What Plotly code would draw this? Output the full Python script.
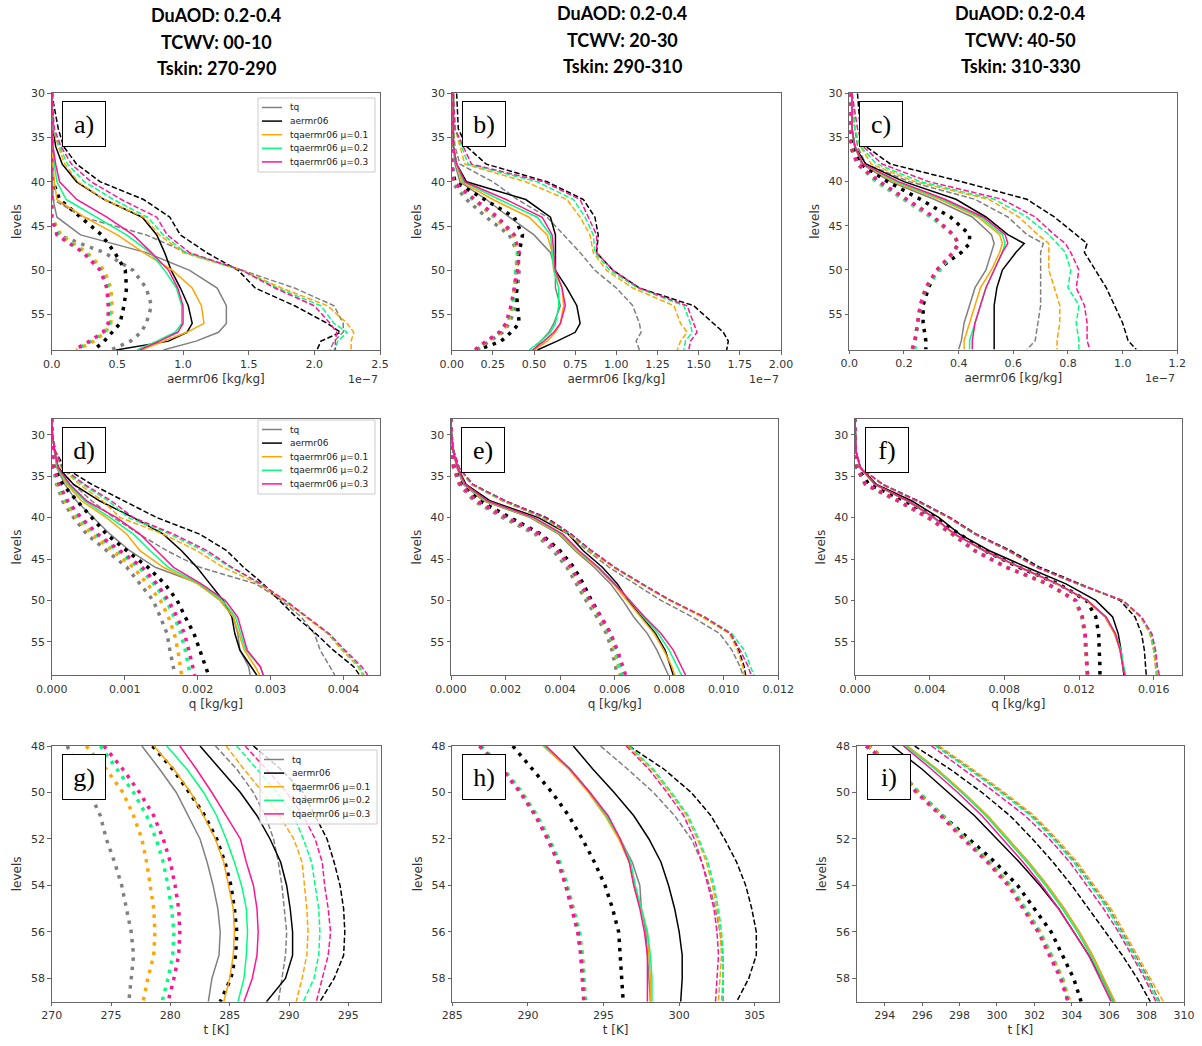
import plotly.graph_objects as go

W, H = 1202, 1046

SERIES = ["tq", "aermr06", "tqaermr06 μ=0.1", "tqaermr06 μ=0.2", "tqaermr06 μ=0.3"]
COLORS = ["#808080", "#000000", "#FFA500", "#00FF7F", "#FF1493"]

COLUMN_TITLES = [
    ["DuAOD: 0.2-0.4", "TCWV: 00-10", "Tskin: 270-290"],
    ["DuAOD: 0.2-0.4", "TCWV: 20-30", "Tskin: 290-310"],
    ["DuAOD: 0.2-0.4", "TCWV: 40-50", "Tskin: 310-330"],
]

# ---------------- aermr06 profiles, units of 1e-7 kg/kg ----------------
# each block: [tq, aermr06, mu=0.1, mu=0.2, mu=0.3]
lev_a = [30, 34, 36, 38, 40, 42, 44, 46, 48, 50, 52, 54, 56, 57, 58, 59]
a_mean = [
    [0, 0, 0, 0, 0.005, 0.01, 0.04, 0.22, 0.72, 1.05, 1.26, 1.33, 1.33, 1.27, 1.10, 0.85],
    [0, 0.01, 0.03, 0.08, 0.19, 0.40, 0.69, 0.80, 0.86, 0.91, 0.98, 1.04, 1.07, 1.03, 0.89, 0.49],
    [0, 0, 0.005, 0.01, 0.02, 0.04, 0.25, 0.50, 0.70, 0.92, 1.07, 1.14, 1.16, 1.03, 0.85, 0.68],
    [0, 0, 0.01, 0.02, 0.04, 0.11, 0.34, 0.57, 0.75, 0.86, 0.95, 0.99, 0.99, 0.94, 0.80, 0.65],
    [0, 0, 0.01, 0.03, 0.06, 0.19, 0.42, 0.62, 0.76, 0.89, 0.96, 1.00, 1.00, 0.96, 0.82, 0.67],
]
a_plus = [
    [0, 0, 0, 0, 0.005, 0.01, 0.24, 0.72, 1.03, 1.45, 1.85, 2.15, 2.22, 2.22, 2.15, 2.12],
    [0, 0.05, 0.09, 0.19, 0.37, 0.70, 0.90, 0.98, 1.18, 1.42, 1.55, 1.85, 2.10, 2.20, 2.05, 2.02],
    [0, 0.01, 0.05, 0.10, 0.20, 0.40, 0.70, 0.82, 1.00, 1.45, 1.75, 2.10, 2.25, 2.30, 2.28, 2.28],
    [0, 0.01, 0.06, 0.12, 0.25, 0.47, 0.73, 0.85, 1.02, 1.45, 1.72, 2.05, 2.15, 2.25, 2.18, 2.15],
    [0, 0.02, 0.07, 0.15, 0.30, 0.53, 0.80, 0.88, 1.05, 1.45, 1.70, 2.00, 2.12, 2.17, 2.16, 2.16],
]
a_minus = [
    [0, 0, 0, 0, 0, 0, 0, 0.05, 0.40, 0.62, 0.72, 0.76, 0.72, 0.68, 0.60, 0.45],
    [0, 0, 0, 0, 0.01, 0.06, 0.22, 0.38, 0.48, 0.56, 0.57, 0.55, 0.52, 0.46, 0.40, 0.32],
    [0, 0, 0, 0, 0, 0, 0, 0.07, 0.27, 0.40, 0.45, 0.46, 0.45, 0.41, 0.32, 0.19],
    [0, 0, 0, 0, 0, 0, 0, 0.05, 0.25, 0.38, 0.43, 0.44, 0.44, 0.40, 0.30, 0.18],
    [0, 0, 0, 0, 0, 0, 0, 0.04, 0.24, 0.37, 0.42, 0.43, 0.43, 0.39, 0.29, 0.17],
]

lev_b = [30, 34, 36, 38, 40, 42, 44, 46, 48, 50, 52, 54, 56, 57, 58, 59]
b_mean = [
    [0.01, 0.01, 0.01, 0.02, 0.05, 0.21, 0.35, 0.50, 0.60, 0.63, 0.63, 0.66, 0.62, 0.59, 0.54, 0.50],
    [0.01, 0.01, 0.01, 0.03, 0.09, 0.45, 0.60, 0.63, 0.63, 0.63, 0.70, 0.76, 0.78, 0.75, 0.64, 0.52],
    [0.01, 0.01, 0.01, 0.03, 0.06, 0.25, 0.47, 0.58, 0.61, 0.62, 0.67, 0.68, 0.66, 0.63, 0.58, 0.50],
    [0.01, 0.01, 0.01, 0.03, 0.07, 0.29, 0.52, 0.60, 0.61, 0.62, 0.65, 0.65, 0.63, 0.60, 0.54, 0.47],
    [0.01, 0.01, 0.01, 0.03, 0.08, 0.33, 0.55, 0.61, 0.62, 0.63, 0.67, 0.69, 0.66, 0.62, 0.56, 0.49],
]
b_plus = [
    [0.01, 0.01, 0.02, 0.05, 0.25, 0.40, 0.58, 0.68, 0.78, 0.87, 1.00, 1.10, 1.14, 1.15, 1.12, 1.14],
    [0.03, 0.04, 0.09, 0.21, 0.58, 0.80, 0.87, 0.89, 0.88, 0.98, 1.14, 1.47, 1.59, 1.65, 1.68, 1.67],
    [0.01, 0.02, 0.05, 0.08, 0.45, 0.70, 0.78, 0.84, 0.86, 0.94, 1.10, 1.35, 1.39, 1.43, 1.39, 1.37],
    [0.01, 0.02, 0.06, 0.10, 0.52, 0.74, 0.81, 0.86, 0.87, 0.96, 1.13, 1.41, 1.45, 1.46, 1.42, 1.41],
    [0.01, 0.02, 0.07, 0.12, 0.56, 0.78, 0.83, 0.88, 0.88, 0.98, 1.14, 1.43, 1.47, 1.49, 1.45, 1.44],
]
b_minus = [
    [0, 0, 0, 0, 0, 0.09, 0.21, 0.35, 0.40, 0.41, 0.40, 0.39, 0.35, 0.31, 0.23, 0.15],
    [0, 0, 0, 0, 0.02, 0.20, 0.38, 0.43, 0.41, 0.39, 0.39, 0.40, 0.41, 0.36, 0.30, 0.16],
    [0, 0, 0, 0, 0.01, 0.13, 0.26, 0.37, 0.40, 0.39, 0.38, 0.37, 0.34, 0.30, 0.22, 0.15],
    [0, 0, 0, 0, 0.01, 0.13, 0.27, 0.38, 0.40, 0.39, 0.38, 0.37, 0.33, 0.29, 0.21, 0.14],
    [0, 0, 0, 0, 0.01, 0.14, 0.28, 0.38, 0.41, 0.40, 0.38, 0.36, 0.33, 0.29, 0.21, 0.14],
]

lev_c = [30, 34, 36, 38, 40, 42, 44, 46, 47, 48, 50, 52, 54, 56, 58, 59]
c_mean = [
    [0.01, 0.01, 0.02, 0.045, 0.15, 0.31, 0.45, 0.52, 0.53, 0.52, 0.50, 0.46, 0.44, 0.42, 0.41, 0.40],
    [0.01, 0.01, 0.02, 0.06, 0.20, 0.39, 0.50, 0.58, 0.64, 0.61, 0.56, 0.54, 0.53, 0.53, 0.53, 0.53],
    [0.01, 0.01, 0.02, 0.05, 0.16, 0.33, 0.47, 0.55, 0.56, 0.55, 0.52, 0.48, 0.46, 0.44, 0.42, 0.42],
    [0.01, 0.01, 0.02, 0.05, 0.17, 0.34, 0.48, 0.56, 0.57, 0.56, 0.53, 0.50, 0.48, 0.46, 0.44, 0.44],
    [0.01, 0.01, 0.02, 0.05, 0.18, 0.35, 0.49, 0.57, 0.58, 0.56, 0.53, 0.50, 0.48, 0.46, 0.45, 0.45],
]
c_plus = [
    [0.01, 0.02, 0.03, 0.06, 0.22, 0.46, 0.58, 0.65, 0.71, 0.70, 0.70, 0.70, 0.70, 0.69, 0.68, 0.65],
    [0.03, 0.04, 0.06, 0.15, 0.41, 0.65, 0.75, 0.83, 0.87, 0.86, 0.90, 0.94, 0.97, 1.00, 1.02, 1.05],
    [0.01, 0.02, 0.04, 0.08, 0.24, 0.51, 0.62, 0.69, 0.73, 0.73, 0.73, 0.75, 0.77, 0.77, 0.76, 0.76],
    [0.01, 0.02, 0.04, 0.10, 0.26, 0.53, 0.65, 0.73, 0.76, 0.79, 0.81, 0.80, 0.84, 0.83, 0.84, 0.84],
    [0.01, 0.03, 0.05, 0.12, 0.29, 0.56, 0.68, 0.75, 0.79, 0.81, 0.84, 0.83, 0.86, 0.87, 0.87, 0.88],
]
c_minus = [
    [0, 0, 0.005, 0.03, 0.10, 0.20, 0.30, 0.38, 0.40, 0.38, 0.33, 0.28, 0.26, 0.25, 0.24, 0.23],
    [0, 0, 0.01, 0.04, 0.14, 0.26, 0.37, 0.44, 0.44, 0.41, 0.32, 0.29, 0.27, 0.27, 0.28, 0.28],
    [0, 0, 0.005, 0.03, 0.10, 0.20, 0.30, 0.38, 0.40, 0.38, 0.33, 0.28, 0.26, 0.25, 0.24, 0.23],
    [0, 0, 0.005, 0.03, 0.10, 0.20, 0.30, 0.38, 0.40, 0.38, 0.33, 0.28, 0.26, 0.25, 0.24, 0.24],
    [0, 0, 0.005, 0.03, 0.11, 0.21, 0.31, 0.38, 0.40, 0.38, 0.32, 0.28, 0.26, 0.25, 0.24, 0.23],
]

# ---------------- specific humidity profiles, g/kg ----------------
lev_q = [28, 30, 32, 34, 36, 38, 40, 42, 44, 46, 48, 50, 52, 54, 56, 58, 59]
d_mean = [
    [0, 0.01, 0.04, 0.07, 0.18, 0.34, 0.57, 0.80, 1.07, 1.42, 2.03, 2.31, 2.49, 2.55, 2.58, 2.70, 2.72],
    [0, 0.01, 0.04, 0.09, 0.30, 0.66, 1.12, 1.53, 1.78, 1.99, 2.17, 2.35, 2.47, 2.51, 2.58, 2.74, 2.81],
    [0, 0.01, 0.04, 0.08, 0.21, 0.41, 0.75, 1.03, 1.21, 1.53, 2.00, 2.31, 2.49, 2.56, 2.64, 2.79, 2.85],
    [0, 0.01, 0.04, 0.08, 0.23, 0.45, 0.80, 1.12, 1.35, 1.60, 2.03, 2.34, 2.52, 2.59, 2.66, 2.86, 2.90],
    [0, 0.01, 0.04, 0.09, 0.25, 0.48, 0.89, 1.21, 1.44, 1.67, 2.05, 2.38, 2.55, 2.62, 2.68, 2.86, 2.90],
]
d_plus = [
    [0, 0.01, 0.05, 0.10, 0.30, 0.55, 0.85, 1.20, 1.58, 2.03, 2.80, 3.15, 3.42, 3.60, 3.68, 3.82, 3.88],
    [0, 0.01, 0.05, 0.18, 0.55, 1.00, 1.44, 2.03, 2.40, 2.63, 2.90, 3.12, 3.35, 3.62, 3.86, 4.14, 4.22],
    [0, 0.01, 0.05, 0.13, 0.38, 0.70, 0.94, 1.53, 1.99, 2.35, 2.84, 3.18, 3.48, 3.78, 3.98, 4.20, 4.26],
    [0, 0.01, 0.05, 0.14, 0.42, 0.78, 1.05, 1.62, 2.08, 2.45, 2.86, 3.20, 3.50, 3.80, 4.00, 4.22, 4.28],
    [0, 0.01, 0.05, 0.15, 0.45, 0.82, 1.12, 1.67, 2.13, 2.47, 2.87, 3.20, 3.50, 3.80, 4.02, 4.25, 4.33],
]
d_minus = [
    [0, 0, 0.01, 0.02, 0.07, 0.15, 0.30, 0.48, 0.75, 1.03, 1.21, 1.39, 1.49, 1.58, 1.62, 1.67, 1.69],
    [0, 0, 0.01, 0.03, 0.15, 0.35, 0.55, 0.75, 1.03, 1.32, 1.55, 1.72, 1.83, 1.95, 2.03, 2.11, 2.15],
    [0, 0, 0.01, 0.02, 0.08, 0.18, 0.34, 0.55, 0.83, 1.12, 1.31, 1.49, 1.60, 1.68, 1.73, 1.76, 1.78],
    [0, 0, 0.01, 0.02, 0.09, 0.20, 0.38, 0.60, 0.90, 1.20, 1.40, 1.57, 1.68, 1.77, 1.83, 1.88, 1.90],
    [0, 0, 0.01, 0.03, 0.10, 0.22, 0.40, 0.63, 0.93, 1.24, 1.44, 1.60, 1.72, 1.82, 1.88, 1.93, 1.96],
]

e_mean = [
    [0, 0.02, 0.08, 0.22, 0.45, 1.20, 2.90, 3.95, 4.55, 5.25, 5.85, 6.30, 6.70, 7.20, 7.55, 7.85, 7.97],
    [0, 0.02, 0.08, 0.25, 0.55, 1.45, 3.20, 4.30, 4.85, 5.55, 6.10, 6.50, 7.00, 7.50, 7.85, 8.05, 8.15],
    [0, 0.02, 0.08, 0.23, 0.48, 1.25, 2.95, 4.00, 4.60, 5.35, 5.95, 6.45, 6.95, 7.45, 7.80, 8.10, 8.20],
    [0, 0.02, 0.08, 0.23, 0.50, 1.30, 3.00, 4.05, 4.65, 5.40, 6.00, 6.55, 7.05, 7.60, 8.00, 8.30, 8.45],
    [0, 0.02, 0.08, 0.24, 0.52, 1.35, 3.05, 4.10, 4.70, 5.40, 6.00, 6.55, 7.10, 7.70, 8.15, 8.45, 8.60],
]
e_plus = [
    [0, 0.02, 0.10, 0.28, 0.75, 1.90, 3.35, 4.30, 5.00, 5.80, 6.75, 7.70, 8.85, 9.85, 10.30, 10.60, 10.70],
    [0, 0.02, 0.10, 0.30, 0.80, 2.00, 3.50, 4.40, 5.15, 6.00, 7.00, 8.05, 9.25, 10.25, 10.55, 10.75, 10.80],
    [0, 0.02, 0.10, 0.28, 0.75, 1.90, 3.35, 4.30, 5.05, 5.95, 6.95, 8.00, 9.20, 10.20, 10.50, 10.70, 10.75],
    [0, 0.02, 0.10, 0.30, 0.78, 1.95, 3.40, 4.35, 5.10, 6.00, 7.00, 8.05, 9.30, 10.30, 10.75, 11.00, 11.10],
    [0, 0.02, 0.10, 0.31, 0.80, 2.00, 3.45, 4.40, 5.15, 6.00, 7.00, 8.05, 9.30, 10.25, 10.60, 10.90, 11.00],
]
e_minus = [
    [0, 0, 0.02, 0.10, 0.30, 0.85, 1.90, 3.10, 3.75, 4.25, 4.60, 4.95, 5.35, 5.70, 5.90, 6.05, 6.10],
    [0, 0, 0.02, 0.12, 0.40, 1.05, 2.20, 3.30, 4.00, 4.50, 4.85, 5.15, 5.50, 5.85, 6.05, 6.20, 6.25],
    [0, 0, 0.02, 0.10, 0.33, 0.90, 2.00, 3.20, 3.85, 4.35, 4.70, 5.05, 5.45, 5.80, 6.00, 6.15, 6.20],
    [0, 0, 0.02, 0.10, 0.33, 0.92, 2.02, 3.22, 3.87, 4.37, 4.72, 5.07, 5.47, 5.82, 6.05, 6.20, 6.25],
    [0, 0, 0.02, 0.10, 0.34, 0.93, 2.04, 3.24, 3.90, 4.40, 4.75, 5.10, 5.50, 5.85, 6.10, 6.30, 6.40],
]

f_mean = [
    [0, 0.01, 0.05, 0.28, 1.05, 2.80, 4.20, 5.30, 6.90, 8.80, 10.80, 12.40, 13.40, 13.90, 14.20, 14.35, 14.45],
    [0, 0.01, 0.05, 0.30, 1.15, 3.05, 4.50, 5.60, 7.20, 9.20, 11.30, 12.90, 13.80, 14.10, 14.25, 14.35, 14.40],
    [0, 0.01, 0.05, 0.28, 1.05, 2.80, 4.20, 5.30, 6.90, 8.80, 10.80, 12.40, 13.40, 13.90, 14.20, 14.35, 14.45],
    [0, 0.01, 0.05, 0.28, 1.07, 2.82, 4.22, 5.32, 6.92, 8.85, 10.85, 12.45, 13.45, 13.95, 14.25, 14.40, 14.50],
    [0, 0.01, 0.05, 0.29, 1.08, 2.85, 4.25, 5.35, 6.95, 8.85, 10.85, 12.45, 13.45, 13.95, 14.20, 14.35, 14.45],
]
f_plus = [
    [0, 0.01, 0.05, 0.30, 1.45, 3.30, 5.00, 6.40, 8.20, 9.70, 11.90, 14.30, 15.30, 15.80, 16.00, 16.10, 16.15],
    [0, 0.01, 0.05, 0.30, 1.50, 3.40, 5.10, 6.50, 8.35, 9.90, 12.10, 14.20, 15.00, 15.35, 15.50, 15.55, 15.60],
    [0, 0.01, 0.05, 0.30, 1.45, 3.30, 5.00, 6.40, 8.20, 9.70, 11.90, 14.30, 15.30, 15.80, 16.00, 16.10, 16.15],
    [0, 0.01, 0.05, 0.31, 1.47, 3.32, 5.02, 6.42, 8.25, 9.75, 11.95, 14.35, 15.35, 15.85, 16.05, 16.15, 16.20],
    [0, 0.01, 0.05, 0.31, 1.48, 3.35, 5.05, 6.45, 8.25, 9.75, 11.95, 14.35, 15.35, 15.90, 16.10, 16.20, 16.30],
]
f_minus = [
    [0, 0, 0.01, 0.10, 0.55, 2.30, 3.90, 5.20, 6.40, 8.10, 10.30, 11.80, 12.15, 12.30, 12.38, 12.42, 12.45],
    [0, 0, 0.01, 0.12, 0.75, 2.70, 4.30, 5.60, 6.95, 8.80, 10.90, 12.40, 12.90, 13.05, 13.10, 13.12, 13.12],
    [0, 0, 0.01, 0.10, 0.55, 2.30, 3.90, 5.20, 6.40, 8.10, 10.30, 11.80, 12.15, 12.30, 12.38, 12.42, 12.45],
    [0, 0, 0.01, 0.10, 0.56, 2.32, 3.92, 5.22, 6.42, 8.12, 10.32, 11.82, 12.17, 12.32, 12.40, 12.44, 12.47],
    [0, 0, 0.01, 0.10, 0.57, 2.33, 3.93, 5.23, 6.43, 8.13, 10.33, 11.83, 12.18, 12.33, 12.40, 12.43, 12.45],
]

# ---------------- temperature profiles, K ----------------
lev_t = [48, 49, 50, 51, 52, 53, 54, 55, 56, 57, 58, 59]
g_mean = [
    [277.6, 279.1, 280.5, 281.5, 282.5, 283.1, 283.6, 284.0, 284.2, 284.1, 283.5, 283.2],
    [282.5, 284.2, 285.9, 287.3, 288.4, 289.3, 289.8, 290.1, 290.3, 290.3, 289.7, 288.1],
    [278.6, 280.3, 281.7, 282.8, 283.8, 284.5, 284.9, 285.3, 285.4, 285.3, 285.0, 284.5],
    [279.7, 281.4, 282.8, 283.9, 284.7, 285.4, 286.0, 286.4, 286.5, 286.4, 286.2, 285.7],
    [280.8, 282.2, 283.5, 284.7, 285.9, 286.4, 287.0, 287.3, 287.4, 287.3, 286.9, 286.2],
]
g_plus = [
    [283.8, 285.6, 287.0, 288.0, 288.7, 289.1, 289.4, 289.6, 289.8, 289.7, 289.4, 289.1],
    [287.0, 289.3, 291.2, 292.2, 293.2, 293.8, 294.3, 294.6, 294.7, 294.6, 293.8, 292.6],
    [284.7, 286.2, 287.8, 289.2, 290.4, 291.1, 291.3, 291.5, 291.6, 291.5, 291.1, 290.6],
    [285.6, 287.3, 289.0, 290.4, 291.2, 291.9, 292.2, 292.5, 292.6, 292.5, 292.1, 291.2],
    [286.3, 288.1, 289.8, 291.2, 292.2, 292.8, 293.0, 293.3, 293.5, 293.3, 292.8, 292.3],
]
g_minus = [
    [271.3, 272.3, 273.2, 274.1, 274.6, 275.3, 275.9, 276.3, 276.7, 276.9, 276.7, 276.5],
    [278.5, 280.2, 281.6, 282.9, 283.9, 284.6, 285.1, 285.4, 285.6, 285.5, 285.1, 284.2],
    [272.9, 274.6, 276.0, 276.9, 277.6, 278.0, 278.3, 278.6, 278.7, 278.6, 278.1, 277.7],
    [274.1, 275.5, 276.9, 278.0, 278.8, 279.4, 279.8, 280.1, 280.3, 280.2, 279.8, 279.3],
    [274.4, 276.0, 277.4, 278.6, 279.4, 280.0, 280.4, 280.7, 280.8, 280.7, 280.3, 279.8],
]

h_mean = [
    [291.1, 292.8, 294.1, 295.2, 296.1, 296.9, 297.4, 297.5, 297.8, 297.9, 298.0, 298.1],
    [293.0, 294.3, 295.7, 297.0, 298.0, 298.8, 299.3, 299.7, 300.0, 300.2, 300.2, 300.1],
    [291.0, 292.7, 294.0, 295.1, 296.0, 296.7, 297.0, 297.5, 297.9, 298.0, 298.1, 298.1],
    [291.1, 292.8, 294.1, 295.2, 296.1, 296.8, 297.1, 297.5, 297.9, 298.1, 298.2, 298.2],
    [291.2, 292.8, 294.1, 295.3, 296.1, 296.7, 297.0, 297.4, 297.7, 297.9, 297.9, 297.9],
]
h_plus = [
    [294.8, 296.6, 298.3, 299.7, 300.8, 301.5, 302.0, 302.4, 302.7, 302.9, 302.9, 302.9],
    [296.7, 299.0, 300.8, 302.1, 303.0, 303.8, 304.4, 304.8, 305.1, 305.1, 304.6, 303.8],
    [296.6, 298.2, 299.4, 300.5, 301.2, 301.8, 302.2, 302.5, 302.7, 302.8, 302.7, 302.6],
    [296.7, 298.3, 299.5, 300.6, 301.3, 301.9, 302.3, 302.6, 302.8, 302.9, 302.9, 302.8],
    [296.5, 298.0, 299.2, 300.3, 301.0, 301.5, 301.9, 302.3, 302.5, 302.6, 302.5, 302.4],
]
h_minus = [
    [286.8, 288.3, 289.5, 290.5, 291.3, 292.0, 292.5, 292.9, 293.3, 293.5, 293.6, 293.7],
    [289.0, 290.3, 291.6, 292.7, 293.6, 294.4, 295.1, 295.6, 296.0, 296.1, 296.2, 296.3],
    [286.9, 288.4, 289.6, 290.6, 291.4, 292.1, 292.6, 293.0, 293.4, 293.6, 293.7, 293.8],
    [286.9, 288.4, 289.6, 290.6, 291.4, 292.1, 292.6, 293.0, 293.4, 293.6, 293.7, 293.8],
    [286.8, 288.3, 289.5, 290.5, 291.3, 292.0, 292.5, 292.9, 293.3, 293.5, 293.6, 293.7],
]

i_mean = [
    [295.2, 296.8, 298.2, 299.5, 300.6, 301.7, 302.7, 303.6, 304.4, 305.1, 305.7, 306.3],
    [294.4, 296.0, 297.4, 298.8, 300.0, 301.2, 302.3, 303.3, 304.1, 304.9, 305.6, 306.2],
    [295.2, 296.8, 298.2, 299.5, 300.6, 301.7, 302.7, 303.6, 304.4, 305.1, 305.7, 306.3],
    [295.1, 296.7, 298.1, 299.4, 300.5, 301.6, 302.6, 303.5, 304.3, 305.0, 305.6, 306.2],
    [295.0, 296.5, 297.9, 299.2, 300.3, 301.4, 302.4, 303.3, 304.1, 304.9, 305.5, 306.1],
]
i_plus = [
    [296.8, 298.6, 300.3, 301.9, 303.1, 304.2, 305.1, 306.0, 306.7, 307.4, 308.1, 308.7],
    [295.6, 297.5, 299.2, 300.7, 301.9, 303.0, 304.0, 304.9, 305.8, 306.7, 307.5, 308.2],
    [296.9, 298.7, 300.4, 302.0, 303.2, 304.3, 305.2, 306.1, 306.8, 307.5, 308.2, 308.9],
    [296.7, 298.5, 300.2, 301.8, 303.0, 304.1, 305.0, 305.9, 306.6, 307.3, 308.0, 308.6],
    [296.5, 298.2, 299.9, 301.5, 302.8, 303.9, 304.8, 305.7, 306.5, 307.2, 307.9, 308.5],
]
i_minus = [
    [293.1, 294.7, 295.8, 297.1, 298.3, 299.6, 300.7, 301.5, 302.3, 302.9, 303.5, 303.8],
    [293.1, 294.7, 295.8, 297.1, 298.5, 299.9, 301.1, 302.0, 302.9, 303.5, 304.1, 304.5],
    [293.1, 294.7, 295.8, 297.1, 298.3, 299.6, 300.7, 301.5, 302.3, 302.9, 303.5, 303.9],
    [293.0, 294.6, 295.8, 297.1, 298.3, 299.6, 300.7, 301.5, 302.3, 302.9, 303.5, 303.8],
    [293.0, 294.6, 295.7, 297.0, 298.2, 299.5, 300.6, 301.4, 302.2, 302.8, 303.4, 303.8],
]

# ---------------- axes setup ----------------
# (left, right, top, bottom) in pixels
BOXES = [
    (51.7, 380.0, 93.3, 350.0), (451.7, 781.0, 93.3, 350.0), (849.3, 1177.3, 93.3, 349.5),
    (51.7, 380.0, 419.0, 675.0), (451.0, 778.3, 419.0, 675.0), (855.0, 1181.7, 419.0, 675.0),
    (51.7, 381.0, 746.0, 1001.7), (452.3, 779.0, 746.0, 1001.7), (856.7, 1184.0, 746.0, 1001.7),
]

PANELS = [
    dict(tag="a)", lev=lev_a, data=(a_mean, a_plus, a_minus), unit=1.0,
         xr=[0, 2.5], xt=[0, 0.5, 1.0, 1.5, 2.0, 2.5], fmt=".1f", xtitle="aermr06 [kg/kg]"),
    dict(tag="b)", lev=lev_b, data=(b_mean, b_plus, b_minus), unit=1.0,
         xr=[0, 2.0], xt=[0, 0.25, 0.5, 0.75, 1.0, 1.25, 1.5, 1.75, 2.0], fmt=".2f", xtitle="aermr06 [kg/kg]"),
    dict(tag="c)", lev=lev_c, data=(c_mean, c_plus, c_minus), unit=1.0,
         xr=[0, 1.2], xt=[0, 0.2, 0.4, 0.6, 0.8, 1.0, 1.2], fmt=".1f", xtitle="aermr06 [kg/kg]"),
    dict(tag="d)", lev=lev_q, data=(d_mean, d_plus, d_minus), unit=1e-3,
         xr=[0, 0.0045], xt=[0, 0.001, 0.002, 0.003, 0.004], fmt=".3f", xtitle="q [kg/kg]"),
    dict(tag="e)", lev=lev_q, data=(e_mean, e_plus, e_minus), unit=1e-3,
         xr=[0, 0.012], xt=[0, 0.002, 0.004, 0.006, 0.008, 0.010, 0.012], fmt=".3f", xtitle="q [kg/kg]"),
    dict(tag="f)", lev=lev_q, data=(f_mean, f_plus, f_minus), unit=1e-3,
         xr=[0, 0.0175], xt=[0, 0.004, 0.008, 0.012, 0.016], fmt=".3f", xtitle="q [kg/kg]"),
    dict(tag="g)", lev=lev_t, data=(g_mean, g_plus, g_minus), unit=1.0,
         xr=[270, 297.75], xt=[270, 275, 280, 285, 290, 295], fmt="d", xtitle="t [K]"),
    dict(tag="h)", lev=lev_t, data=(h_mean, h_plus, h_minus), unit=1.0,
         xr=[285, 306.6], xt=[285, 290, 295, 300, 305], fmt="d", xtitle="t [K]"),
    dict(tag="i)", lev=lev_t, data=(i_mean, i_plus, i_minus), unit=1.0,
         xr=[292.5, 310], xt=[294, 296, 298, 300, 302, 304, 306, 308, 310], fmt="d", xtitle="t [K]"),
]

YRANGES = [[59, 30], [59, 28.1], [59, 48]]
YTICKS = [[30, 35, 40, 45, 50, 55], [30, 35, 40, 45, 50, 55], [48, 50, 52, 54, 56, 58]]

# legend frames (left, top) in pixels for the left-hand column
LEGEND_POS = {0: (258, 98), 3: (258, 420), 6: (260, 750)}
LEG_W, LEG_H, LEG_ROW = 117, 74, 13.6

LINE_STYLES = [
    dict(width=1.5, dash="solid"),
    dict(width=1.5, dash="5.5px,2.4px"),
    dict(width=3.5, dash="3.5px,5.8px"),
]

AX_COLOR = "#666666"
TICK_FONT = dict(family="DejaVu Sans", size=11, color="#333333")
TITLE_FONT = dict(family="DejaVu Sans", size=12, color="#333333")
LEG_FONT = dict(family="DejaVu Sans", size=9, color="#222222")

fig = go.Figure()
layout = dict(
    width=W, height=H, margin=dict(l=0, r=0, t=0, b=0),
    paper_bgcolor="white", plot_bgcolor="white", showlegend=False,
)
annotations = []
shapes = []


def px_x(v):
    return v / W


def px_y(v):
    return 1 - v / H


for p, panel in enumerate(PANELS):
    n = p + 1
    xa = "x" if n == 1 else f"x{n}"
    ya = "y" if n == 1 else f"y{n}"
    left, right, top, bottom = BOXES[p]
    row = p // 3

    for k in range(5):
        for s, block in enumerate(panel["data"]):
            vals = [v * panel["unit"] for v in block[k]]
            fig.add_trace(go.Scatter(
                x=vals, y=panel["lev"], mode="lines", xaxis=xa, yaxis=ya,
                line=dict(color=COLORS[k], **LINE_STYLES[s]),
                name=SERIES[k], hoverinfo="skip",
            ))

    xkey = "xaxis" if n == 1 else f"xaxis{n}"
    ykey = "yaxis" if n == 1 else f"yaxis{n}"
    tick_text = [format(v, panel["fmt"]) if panel["fmt"] != "d" else str(int(v)) for v in panel["xt"]]
    layout[xkey] = dict(
        domain=[left / W, right / W], anchor=ya, range=panel["xr"],
        tickmode="array", tickvals=panel["xt"], ticktext=tick_text,
        showline=True, mirror=True, linecolor=AX_COLOR, linewidth=1,
        ticks="outside", ticklen=3.5, tickcolor=AX_COLOR, tickfont=TICK_FONT,
        showgrid=False, zeroline=False, automargin=False,
        title=dict(text=panel["xtitle"], font=TITLE_FONT, standoff=4),
    )
    layout[ykey] = dict(
        domain=[1 - bottom / H, 1 - top / H], anchor=xa, range=YRANGES[row],
        tickmode="array", tickvals=YTICKS[row],
        showline=True, mirror=True, linecolor=AX_COLOR, linewidth=1,
        ticks="outside", ticklen=3.5, tickcolor=AX_COLOR, tickfont=TICK_FONT,
        showgrid=False, zeroline=False, automargin=False,
        title=dict(text="levels", font=TITLE_FONT, standoff=6),
    )

    # panel tag in a framed box
    annotations.append(dict(
        text=panel["tag"], xref=f"{xa} domain", yref=f"{ya} domain", x=0, y=1,
        xanchor="left", yanchor="top", xshift=10, yshift=-8, showarrow=False,
        font=dict(family="Liberation Serif", size=26, color="black"),
        bgcolor="white", bordercolor="black", borderwidth=1, borderpad=5,
        width=32, height=34,
    ))
    # scale factor for aermr06 axes
    if row == 0:
        annotations.append(dict(
            text="1e\u22127", xref=f"{xa} domain", yref=f"{ya} domain", x=1, y=0,
            xanchor="right", yanchor="top", yshift=-21, showarrow=False, font=TICK_FONT,
        ))

    # compact legend for the left-hand column
    if p in LEGEND_POS:
        lx, ly = LEGEND_POS[p]
        shapes.append(dict(
            type="rect", xref="paper", yref="paper", layer="above",
            x0=px_x(lx), x1=px_x(lx + LEG_W), y0=px_y(ly + LEG_H), y1=px_y(ly),
            fillcolor="rgba(255,255,255,0.8)", line=dict(color="#cccccc", width=1),
        ))
        for k in range(5):
            cy = ly + 9.5 + k * LEG_ROW
            shapes.append(dict(
                type="line", xref="paper", yref="paper", layer="above",
                x0=px_x(lx + 4), x1=px_x(lx + 24), y0=px_y(cy), y1=px_y(cy),
                line=dict(color=COLORS[k], width=1.5),
            ))
            annotations.append(dict(
                text=SERIES[k], xref="paper", yref="paper", x=px_x(lx + 30), y=px_y(cy),
                xanchor="left", yanchor="middle", showarrow=False, font=LEG_FONT,
            ))

# column headers
TITLE_X = [216, 622, 1020]
TITLE_Y = [[15, 42, 68], [13, 40, 66], [13, 40, 66]]
for c in range(3):
    for j, line in enumerate(COLUMN_TITLES[c]):
        annotations.append(dict(
            text=f"<b>{line}</b>", xref="paper", yref="paper",
            x=TITLE_X[c] / W, y=1 - TITLE_Y[c][j] / H, xanchor="center", yanchor="middle",
            showarrow=False, font=dict(family="Lato", size=18, color="black"),
        ))

layout["annotations"] = annotations
layout["shapes"] = shapes

fig.update_layout(**layout)
fig.write_html("out.html")
